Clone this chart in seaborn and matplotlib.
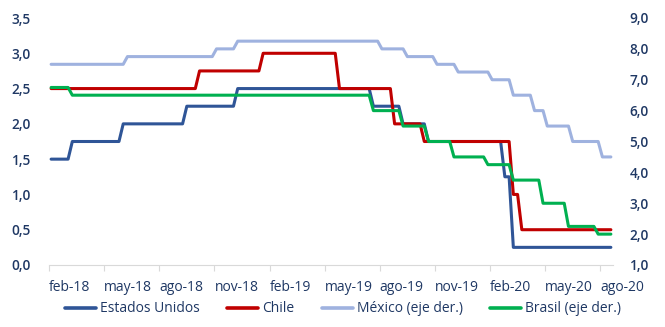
import matplotlib
matplotlib.use('Agg')
import matplotlib.pyplot as plt
from matplotlib.lines import Line2D
import seaborn as sns
import pandas as pd

# Policy rate decisions (date of change, new rate)
us_dates = ['2018-01-01', '2018-03-21', '2018-06-13', '2018-09-26', '2018-12-19',
            '2019-07-31', '2019-09-18', '2019-10-30', '2020-03-03', '2020-03-15']
us_rates = [1.50, 1.75, 2.00, 2.25, 2.50, 2.25, 2.00, 1.75, 1.25, 0.25]

cl_dates = ['2018-01-01', '2018-10-18', '2019-01-30', '2019-06-07', '2019-09-04',
            '2019-10-23', '2020-03-16', '2020-03-31']
cl_rates = [2.50, 2.75, 3.00, 2.50, 2.00, 1.75, 1.00, 0.50]

mx_dates = ['2018-01-01', '2018-06-21', '2018-11-15', '2018-12-20', '2019-08-15',
            '2019-09-26', '2019-11-14', '2019-12-19', '2020-02-13', '2020-03-20',
            '2020-04-21', '2020-05-14', '2020-06-25', '2020-08-13']
mx_rates = [7.50, 7.75, 8.00, 8.25, 8.00, 7.75, 7.50, 7.25, 7.00, 6.50,
            6.00, 5.50, 5.00, 4.50]

br_dates = ['2018-01-01', '2018-03-21', '2019-07-31', '2019-09-18', '2019-10-30',
            '2019-12-11', '2020-02-05', '2020-03-18', '2020-05-06', '2020-06-17',
            '2020-08-05']
br_rates = [6.75, 6.50, 6.00, 5.50, 5.00, 4.50, 4.25, 3.75, 3.00, 2.25, 2.00]

tick_labels = ['feb-18', 'may-18', 'ago-18', 'nov-18', 'feb-19', 'may-19',
               'ago-19', 'nov-19', 'feb-20', 'may-20', 'ago-20']

# weekly observations, as in the source series
weeks = pd.date_range('2018-02-16', '2020-08-28', freq='W-FRI')


def weekly(dates, rates):
    s = pd.Series(rates, index=pd.to_datetime(dates))
    return s.reindex(s.index.union(weeks)).ffill().loc[weeks]


navy = '#1F3864'
colors = {'Estados Unidos': '#2F5597', 'Chile': '#C00000',
          'México (eje der.)': '#9FB2DF', 'Brasil (eje der.)': '#00B050'}

sns.set_style('white')
plt.rcParams['font.family'] = ['Open Sans', 'DejaVu Sans']

fig = plt.figure(figsize=(6.65, 3.27), dpi=100)
ax = fig.add_axes([49 / 665, 1 - 265 / 327, 564 / 665, 247 / 327])
ax2 = ax.twinx()

lw = 2.2
sns.lineplot(x=weeks, y=weekly(us_dates, us_rates).values, ax=ax,
             color=colors['Estados Unidos'], lw=lw)
sns.lineplot(x=weeks, y=weekly(cl_dates, cl_rates).values, ax=ax,
             color=colors['Chile'], lw=lw)
sns.lineplot(x=weeks, y=weekly(mx_dates, mx_rates).values, ax=ax2,
             color=colors['México (eje der.)'], lw=lw)
sns.lineplot(x=weeks, y=weekly(br_dates, br_rates).values, ax=ax2,
             color=colors['Brasil (eje der.)'], lw=lw)

half = pd.Timedelta(days=3.5)
left, right = weeks[0] - half, weeks[-1] + half
ax.set_xlim(left, right)
ax.set_ylim(0, 3.5)
ax2.set_ylim(1, 9)

ticks = [left + pd.Timedelta(days=91 * i) for i in range(len(tick_labels))]
ax.set_xticks(ticks)
ax.set_xticklabels(tick_labels)
for lab in ax.get_xticklabels():
    lab.set_ha('left')
ax.tick_params(axis='x', length=4, color='#D9D9D9', pad=7, labelsize=10,
               labelcolor=navy, bottom=True)

ax.set_yticks([i * 0.5 for i in range(8)])
ax.set_yticklabels([f'{i * 0.5:.1f}'.replace('.', ',') for i in range(8)])
ax2.set_yticks(range(1, 10))
ax2.set_yticklabels([f'{i:.1f}'.replace('.', ',') for i in range(1, 10)])
ax.tick_params(axis='y', length=0, pad=13, labelsize=9.8, labelcolor=navy)
ax2.tick_params(axis='y', length=0, pad=12, labelsize=9.8, labelcolor=navy)
for lab in ax.get_yticklabels() + ax2.get_yticklabels():
    lab.set_fontweight('semibold')

for a in (ax, ax2):
    a.set_xlabel('')
    a.set_ylabel('')
    for side in ('left', 'right', 'top'):
        a.spines[side].set_visible(False)
    a.spines['bottom'].set_color('#D9D9D9')
    a.grid(False)
ax2.spines['bottom'].set_visible(False)

handles = [Line2D([], [], color=c, lw=lw + 0.4) for c in colors.values()]
fig.legend(handles, list(colors.keys()), loc='center', ncol=4, frameon=False,
           bbox_to_anchor=(0.516, 1 - 309 / 327), fontsize=10, labelcolor=navy,
           handlelength=2.2, handletextpad=0.3, columnspacing=2.0)

fig.savefig('out.png', dpi=100)
